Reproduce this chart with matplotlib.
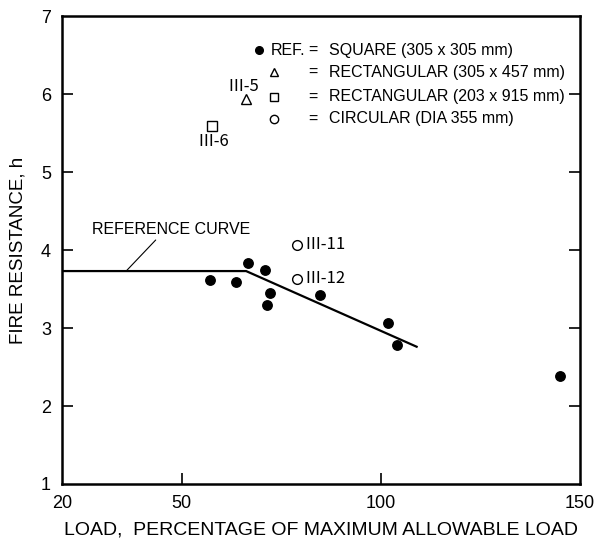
import matplotlib
matplotlib.use("Agg")
import matplotlib.pyplot as plt

plt.rcParams['font.family'] = ['Liberation Sans', 'Noto Sans CJK JP', 'DejaVu Sans']

# square columns (reference), load % vs fire resistance (h)
ref_load = [57.1, 63.7, 66.8, 70.9, 72.3, 71.5, 84.7, 101.7, 104.0, 145.0]
ref_fire = [3.62, 3.59, 3.83, 3.74, 3.45, 3.29, 3.42, 3.06, 2.78, 2.38]

# other shapes
rect1_load, rect1_fire = [66.1], [5.93]     # rectangular 305 x 457, III-5
rect2_load, rect2_fire = [57.7], [5.59]     # rectangular 203 x 915, III-6
circ_load = [79.0, 79.0]
circ_fire = [4.07, 3.63]
circ_names = ['Ⅲ-11', 'Ⅲ-12']

# reference curve
curve_load = [20, 66.2, 109.0]
curve_fire = [3.73, 3.73, 2.76]

fig = plt.figure(figsize=(6.12, 5.5), dpi=100)
ax = fig.add_axes([0.1013, 0.12, 0.8464, 0.8509])

ax.plot(curve_load, curve_fire, color='black', lw=1.6, solid_joinstyle='miter')
ax.plot(ref_load, ref_fire, 'o', color='black', ms=6.8, clip_on=False)
ax.plot(rect1_load, rect1_fire, '^', mfc='white', mec='black', mew=1.0, ms=7)
ax.plot(rect2_load, rect2_fire, 's', mfc='white', mec='black', mew=1.0, ms=7)
ax.plot(circ_load, circ_fire, 'o', mfc='white', mec='black', mew=1.0, ms=7)

roman = ['Noto Sans CJK JP', 'DejaVu Sans']
for x, y, name in zip(circ_load, circ_fire, circ_names):
    ax.annotate(name, (x, y), xytext=(5, 0), textcoords='offset points',
                ha='left', va='center', fontsize=12, family=roman)
ax.annotate('Ⅲ-5', (rect1_load[0], rect1_fire[0]), xytext=(-13, 9),
            textcoords='offset points', ha='left', va='center',
            fontsize=12, family=roman)
ax.annotate('Ⅲ-6', (rect2_load[0], rect2_fire[0]), xytext=(-11, -11),
            textcoords='offset points', ha='left', va='center',
            fontsize=12, family=roman)

# reference curve label with leader
ax.annotate('REFERENCE CURVE', xy=(36.1, 3.73), xytext=(27.5, 4.26),
            fontsize=11.5, ha='left', va='center',
            arrowprops=dict(arrowstyle='-', color='black', lw=0.8,
                            shrinkA=0, shrinkB=0, relpos=(0.42, 0)))

# legend block
rows = [0.927, 0.880, 0.827, 0.780]
sym_x = 0.409
fs_leg = 11.5
ax.plot([0.380], [rows[0]], 'o', color='black', ms=5.5, transform=ax.transAxes)
ax.text(0.403, rows[0], 'REF.', transform=ax.transAxes, ha='left', va='center', fontsize=fs_leg)
ax.plot([sym_x], [rows[1]], '^', mfc='white', mec='black', mew=1.0, ms=6, transform=ax.transAxes)
ax.plot([sym_x], [rows[2]], 's', mfc='white', mec='black', mew=1.0, ms=6, transform=ax.transAxes)
ax.plot([sym_x], [rows[3]], 'o', mfc='white', mec='black', mew=1.0, ms=6, transform=ax.transAxes)
descr = ['SQUARE (305 x 305 mm)', 'RECTANGULAR (305 x 457 mm)',
         'RECTANGULAR (203 x 915 mm)', 'CIRCULAR (DIA 355 mm)']
for y, d in zip(rows, descr):
    ax.text(0.484, y, '=', transform=ax.transAxes, ha='center', va='center', fontsize=fs_leg)
    ax.text(0.515, y, d, transform=ax.transAxes, ha='left', va='center', fontsize=fs_leg)

ax.set_xlim(20, 150)
ax.set_ylim(1, 7)
ax.set_xticks([20, 50, 100, 150])
ax.set_yticks([1, 2, 3, 4, 5, 6, 7])
ax.tick_params(direction='in', length=8, width=1.2, labelsize=13, pad=8,
               right=True, top=False)
for t in ax.xaxis.get_major_ticks()[::3]:
    t.tick1line.set_visible(False)
for t in [ax.yaxis.get_major_ticks()[0], ax.yaxis.get_major_ticks()[-1]]:
    t.tick1line.set_visible(False)
    t.tick2line.set_visible(False)
for s in ax.spines.values():
    s.set_linewidth(1.8)

ax.set_xlabel('LOAD,  PERCENTAGE OF MAXIMUM ALLOWABLE LOAD', fontsize=14, labelpad=7)
ax.set_ylabel('FIRE RESISTANCE, h', fontsize=13.5, labelpad=10)

fig.savefig('out.png', dpi=100)
